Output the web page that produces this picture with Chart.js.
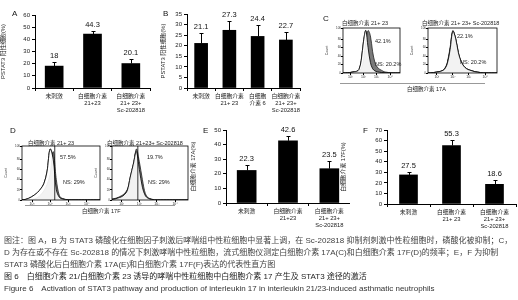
<!DOCTYPE html>
<html>
<head>
<meta charset="utf-8">
<script src="https://cdn.jsdelivr.net/npm/chart.js"></script>
<style>
  body { margin: 0; background: #fff; }
  #fig { position: relative; width: 518px; height: 300px; overflow: hidden; background: #fff;
         font-family: "Liberation Sans", "Noto Sans CJK SC", sans-serif; color: #111; }
  canvas { position: absolute; }
  .t { position: absolute; white-space: nowrap; line-height: 1; }
  .p { font-size: 8px; }
  .s { font-size: 5.5px; color: #222; }
  .cap { position: absolute; left: 4px; font-size: 8px; color: #444; white-space: nowrap; line-height: 1; }
  .hl { position: absolute; height: 0; border-top: 1px solid #999; }
</style>
</head>
<body>
<div id="fig">
  <canvas id="cA" width="160" height="120" style="left:0;top:0"></canvas>
  <canvas id="cB" width="160" height="120" style="left:160px;top:0"></canvas>
  <canvas id="cC1" width="80" height="65" style="left:325px;top:18px"></canvas>
  <canvas id="cC2" width="92" height="65" style="left:410px;top:18px"></canvas>
  <canvas id="cD1" width="100" height="72" style="left:4px;top:136px"></canvas>
  <canvas id="cD2" width="98" height="72" style="left:94px;top:136px"></canvas>
  <canvas id="cE" width="160" height="122" style="left:190px;top:120px"></canvas>
  <canvas id="cF" width="178" height="122" style="left:340px;top:120px"></canvas>

  <div class="t p" style="left:12px;top:10px">A</div>
  <div class="t p" style="left:163px;top:10px">B</div>
  <div class="t p" style="left:323px;top:15px">C</div>
  <div class="t p" style="left:10px;top:127px">D</div>
  <div class="t p" style="left:203px;top:127px">E</div>
  <div class="t p" style="left:363px;top:127px">F</div>

  <div class="t s" style="left:342px;top:21px">白细胞介素 21+ 23</div>
  <div class="t s" style="left:422px;top:21px">白细胞介素 21+ 23+ Sc-202818</div>
  <div class="t s" style="left:375px;top:39px">42.1%</div>
  <div class="t s" style="left:375px;top:62px">NS: 20.2%</div>
  <div class="t s" style="left:457px;top:34px">22.1%</div>
  <div class="t s" style="left:460px;top:60px">NS: 20.2%</div>
  <div class="hl" style="left:340px;top:83px;width:145px"></div>
  <div class="t s" style="left:407px;top:87px">白细胞介素 17A</div>

  <div class="t s" style="left:28px;top:141px">白细胞介素 21+ 23</div>
  <div class="t s" style="left:107px;top:141px">白细胞介素 21+23+ Sc-202818</div>
  <div class="t s" style="left:60px;top:155px">57.5%</div>
  <div class="t s" style="left:63px;top:180px">NS: 29%</div>
  <div class="t s" style="left:147px;top:155px">19.7%</div>
  <div class="t s" style="left:148px;top:180px">NS: 29%</div>
  <div class="hl" style="left:25px;top:205px;width:150px"></div>
  <div class="t s" style="left:82px;top:209px">白细胞介素 17F</div>

  <div class="cap" style="top:237px">图注：图 A，B 为 STAT3 磷酸化在细胞因子刺激后哮喘组中性粒细胞中显著上调，在 Sc-202818 抑制剂刺激中性粒细胞时，磷酸化被抑制；C，</div>
  <div class="cap" style="top:249px">D 为存在或不存在 Sc-202818 的情况下刺激哮喘中性粒细胞，流式细胞仪测定白细胞介素 17A(C)和白细胞介素 17F(D)的频率；E，F 为抑制</div>
  <div class="cap" style="top:261px">STAT3 磷酸化后白细胞介素 17A(E)和白细胞介素 17F(F)表达的代表性直方图</div>
  <div class="cap" style="top:273px;color:#222">图 6　白细胞介素 21/白细胞介素 23 诱导的哮喘中性粒细胞中白细胞介素 17 产生及 STAT3 途径的激活</div>
  <div class="cap" style="top:285px;color:#333">Figure 6　Activation of STAT3 pathway and production of interleukin 17 in interleukin 21/23-induced asthmatic neutrophils</div>
</div>

<script>
// bar panels
const labelsA = ['未刺激', ['白细胞介素', '21+23'], ['白细胞介素', '21+ 23+', 'Sc-202818']];
const valuesA = [18, 44.3, 20.1];
const errA = [21, 47, 24];

const labelsB = ['未刺激', ['白细胞介素', '21+ 23'], ['白细胞', '介素 6'], ['白细胞介素', '21+ 23+', 'Sc-202818']];
const valuesB = [21.1, 27.3, 24.4, 22.7];
const errB = [26, 31.5, 30, 26.5];

const labelsE = ['未刺激', ['白细胞介素', '21+23'], ['白细胞介素', '21+ 23+', 'Sc-202818']];
const valuesE = [22.3, 42.6, 23.5];
const errE = [26, 46, 28.5];

const labelsF = ['未刺激', ['白细胞介素', '21+ 23'], ['白细胞介素', '21+ 23+', 'Sc-202818']];
const valuesF = [27.5, 55.3, 18.6];
const errF = [30.5, 61, 23];

// flow histograms (x = position on log axis, 0-100)
const histBins = [0, 4, 8, 12, 16, 20, 24, 28, 32, 36, 40, 44, 48, 52, 56, 60, 64, 68, 72, 76, 80, 84, 88, 92, 96, 100];
const c1Fill = [0, 0, 1, 1, 2, 2, 3, 5, 10, 30, 75, 100, 88, 50, 25, 14, 9, 6, 3, 2, 1, 0, 0, 0, 0, 0];
const c1Line = [0, 0, 1, 1, 2, 3, 4, 8, 30, 75, 100, 60, 25, 10, 5, 3, 2, 1, 1, 0, 0, 0, 0, 0, 0, 0];
const c2Fill = [0, 0, 1, 2, 3, 5, 10, 25, 60, 100, 80, 45, 25, 15, 10, 7, 5, 3, 2, 1, 0, 0, 0, 0, 0, 0];
const c2Line = [0, 0, 1, 2, 3, 5, 9, 22, 55, 98, 82, 48, 27, 16, 10, 7, 5, 3, 2, 1, 0, 0, 0, 0, 0, 0];
const d1Fill = [0, 0, 0, 1, 2, 5, 10, 18, 30, 50, 95, 40, 8, 3, 1, 0, 0, 0, 0, 0, 0, 0, 0, 0, 0, 0];
const d1Line = [0, 1, 3, 6, 10, 15, 22, 32, 55, 100, 80, 20, 5, 2, 1, 0, 0, 0, 0, 0, 0, 0, 0, 0, 0, 0];
const d2Fill = [2, 3, 5, 8, 12, 20, 35, 60, 100, 75, 40, 12, 4, 2, 0, 0, 0, 0, 0, 0, 0, 0, 0, 0, 0, 0];
const d2Line = [1, 2, 4, 6, 10, 18, 45, 70, 95, 60, 25, 8, 3, 1, 0, 0, 0, 0, 0, 0, 0, 0, 0, 0, 0, 0];
const histTicks = [13, 36, 59, 83];
const histTickLabels = ['10¹', '10²', '10³', '10⁴'];
const d1Marker = 42;
const d2Marker = 34;

const FONT = '"Liberation Sans", "Noto Sans CJK SC", sans-serif';

const errorBars = {
    id: 'errorBars',
    afterDatasetsDraw(chart) {
        const ds = chart.data.datasets[0];
        const meta = chart.getDatasetMeta(0);
        const y = chart.scales.y;
        const ctx = chart.ctx;
        ctx.save();
        ctx.strokeStyle = '#000';
        ctx.lineWidth = 1;
        ctx.fillStyle = '#111';
        ctx.font = '7.5px ' + FONT;
        ctx.textAlign = 'center';
        ctx.textBaseline = 'bottom';
        meta.data.forEach((bar, i) => {
            const top = Math.round(y.getPixelForValue(ds.errTop[i])) + 0.5;
            const x = Math.round(bar.x) + 0.5;
            ctx.beginPath();
            ctx.moveTo(x, bar.y);
            ctx.lineTo(x, top);
            ctx.moveTo(x - 2, top);
            ctx.lineTo(x + 2, top);
            ctx.stroke();
            ctx.fillText(String(ds.data[i]), bar.x, top - 3);
        });
        ctx.restore();
    }
};

function barChart(id, labels, values, errTop, yMax, step, yTitle, o) {
    new Chart(document.getElementById(id), {
        type: 'bar',
        data: {
            labels: labels,
            datasets: [{ data: values, errTop: errTop, backgroundColor: '#000', barThickness: o.barW }]
        },
        options: {
            responsive: false,
            animation: false,
            devicePixelRatio: 1,
            layout: { padding: { top: o.top, right: o.right, left: 0, bottom: 0 } },
            plugins: { legend: { display: false }, tooltip: { enabled: false } },
            scales: {
                x: {
                    grid: { drawOnChartArea: false, tickLength: 3, color: '#000', offset: true },
                    border: { color: '#000' },
                    ticks: { color: '#222', font: { size: 5.8, family: FONT }, padding: 2, maxRotation: 0, autoSkip: false },
                    afterFit: s => { s.height = o.xh; }
                },
                y: {
                    min: 0, max: yMax,
                    grid: { drawOnChartArea: false, tickLength: 3, color: '#000' },
                    border: { color: '#000' },
                    ticks: { stepSize: step, color: '#222', font: { size: 6, family: FONT }, padding: 2 },
                    title: { display: true, text: yTitle, color: '#222', font: { size: 5.8, family: FONT }, padding: 0 },
                    afterFit: s => { s.width = o.yw; }
                }
            }
        },
        plugins: [errorBars]
    });
}

barChart('cA', labelsA, valuesA, errA, 60, 10, 'PSTAT3 阳性细胞(%)', { barW: 18, top: 15, right: 10, xh: 32, yw: 35 });
barChart('cB', labelsB, valuesB, errB, 35, 5, 'PSTAT3 阳性细胞(%)', { barW: 13, top: 14, right: 20, xh: 32, yw: 27 });
barChart('cE', labelsE, valuesE, errE, 50, 5, '白细胞介素 17A(%)', { barW: 19, top: 10, right: 0, xh: 39, yw: 36 });
barChart('cF', labelsF, valuesF, errF, 70, 10, '白细胞介素 17F(%)', { barW: 18, top: 10, right: 2, xh: 38, yw: 47 });

const histFrame = {
    id: 'histFrame',
    afterDatasetsDraw(chart) {
        const a = chart.chartArea;
        const ctx = chart.ctx;
        ctx.save();
        ctx.strokeStyle = '#000';
        ctx.lineWidth = 0.8;
        ctx.strokeRect(a.left, a.top, a.right - a.left, a.bottom - a.top);
        const m = chart.options.plugins.histFrame.marker;
        if (m != null) {
            const x = chart.scales.x.getPixelForValue(m);
            ctx.beginPath();
            ctx.moveTo(x, a.bottom);
            ctx.lineTo(x, a.top);
            ctx.stroke();
        }
        ctx.restore();
    }
};

function histChart(id, fillData, lineData, marker, o) {
    new Chart(document.getElementById(id), {
        type: 'line',
        data: {
            labels: histBins,
            datasets: [
                { data: lineData, borderColor: '#000', borderWidth: 0.8, backgroundColor: 'rgba(255,255,255,0.9)', fill: 'origin', pointRadius: 0, tension: 0.35 },
                { data: fillData, borderColor: '#222', borderWidth: 0.8, backgroundColor: '#7a7a7a', fill: 'origin', pointRadius: 0, tension: 0.35 },
                { data: lineData, borderColor: '#000', borderWidth: 0.8, fill: false, pointRadius: 0, tension: 0.35 }
            ]
        },
        options: {
            responsive: false,
            animation: false,
            devicePixelRatio: 1,
            layout: { padding: { top: o.top, right: o.right, left: 0, bottom: 0 } },
            plugins: { legend: { display: false }, tooltip: { enabled: false }, histFrame: { marker: marker } },
            scales: {
                x: {
                    type: 'linear', min: 0, max: 100,
                    afterBuildTicks: s => { s.ticks = histTicks.map(v => ({ value: v })); },
                    grid: { drawOnChartArea: false, tickLength: 2, color: '#000' },
                    border: { display: false },
                    ticks: { callback: (v, i) => histTickLabels[i], color: '#333', font: { size: 3.5, family: FONT }, padding: 0, maxRotation: 0 },
                    afterFit: s => { s.height = o.xh; }
                },
                y: {
                    min: 0, max: 106,
                    grid: { drawOnChartArea: false, tickLength: 2, color: '#000' },
                    border: { display: false },
                    ticks: { stepSize: 20, color: '#333', font: { size: 3, family: FONT }, padding: 0 },
                    title: { display: true, text: 'Count', color: '#333', font: { size: 3.5, family: FONT }, padding: 0 },
                    afterFit: s => { s.width = o.yw; }
                }
            }
        },
        plugins: [histFrame]
    });
}

histChart('cC1', c1Fill, c1Line, null, { top: 10, right: 5, xh: 10, yw: 18 });
histChart('cC2', c2Fill, c2Line, null, { top: 10, right: 5, xh: 10, yw: 18 });
histChart('cD1', d1Fill, d1Line, d1Marker, { top: 10, right: 4, xh: 8, yw: 18 });
histChart('cD2', d2Fill, d2Line, d2Marker, { top: 10, right: 4, xh: 8, yw: 18 });
</script>
</body>
</html>
